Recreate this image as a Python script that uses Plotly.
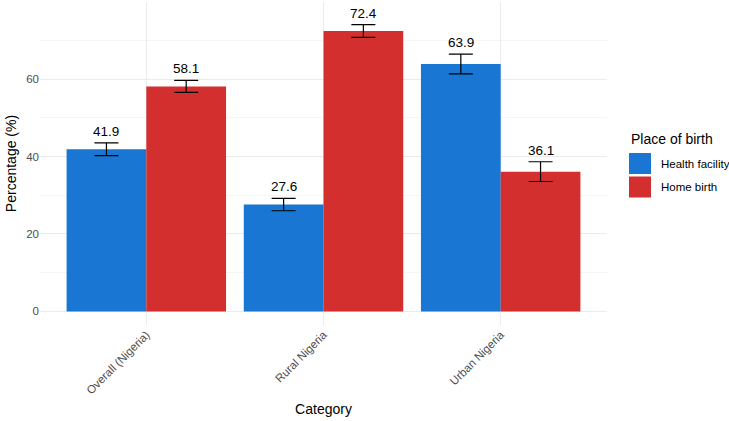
import plotly.graph_objects as go

categories = ["Overall (Nigeria)", "Rural Nigeria", "Urban Nigeria"]
health_facility = [41.9, 27.6, 63.9]
home_birth = [58.1, 72.4, 36.1]
health_err = [1.65, 1.6, 2.55]
home_err = [1.55, 1.65, 2.55]
series_names = ["Health facility", "Home birth"]
colors = ["#1976D2", "#D32F2F"]

W, H = 729, 421
ML, MR, MT, MB = 40, 122, 2, 96
PW, PH = W - ML - MR, H - MT - MB
FONT = "Liberation Sans, Arial, sans-serif"

def px_x(x):
    return (x - ML) / PW

def px_y(y):
    return 1 - (y - MT) / PH

fig = go.Figure()
for name, vals, errs, col in [
    (series_names[0], health_facility, health_err, colors[0]),
    (series_names[1], home_birth, home_err, colors[1]),
]:
    fig.add_trace(go.Bar(
        name=name, x=categories, y=vals, marker_color=col,
        marker_line_width=0,
        error_y=dict(type="data", array=errs, color="black", thickness=1.2, width=12),
        showlegend=False,
    ))

annotations = []
for i, c in enumerate(categories):
    for off, vals, errs in [(-0.225, health_facility, health_err), (0.225, home_birth, home_err)]:
        annotations.append(dict(
            x=i + off, y=vals[i] + errs[i], xref="x", yref="y",
            text=f"{vals[i]:.1f}", showarrow=False, yanchor="middle", yshift=11.6,
            font=dict(family=FONT, size=13.5, color="black"),
        ))

# manual legend
annotations.append(dict(x=px_x(629), y=px_y(139), xref="paper", yref="paper",
                        text="Place of birth", showarrow=False, xanchor="left", yanchor="middle",
                        font=dict(family=FONT, size=14, color="black")))
shapes = []
for k, (name, col) in enumerate(zip(series_names, colors)):
    y0 = 153 + k * 23.5
    shapes.append(dict(type="rect", xref="paper", yref="paper",
                       x0=px_x(629), x1=px_x(651), y0=px_y(y0), y1=px_y(y0 + 21),
                       fillcolor=col, line_width=0))
    annotations.append(dict(x=px_x(659), y=px_y(y0 + 10.5), xref="paper", yref="paper",
                            text=name, showarrow=False, xanchor="left", yanchor="middle",
                            font=dict(family=FONT, size=11.5, color="black")))

fig.update_layout(
    width=W, height=H,
    margin=dict(l=ML, r=MR, t=MT, b=MB),
    paper_bgcolor="white", plot_bgcolor="white",
    barmode="group", bargap=0.1, bargroupgap=0,
    font=dict(family=FONT),
    annotations=annotations, shapes=shapes,
    xaxis=dict(
        range=[-0.6, 2.6], tickangle=-45, showgrid=True, gridcolor="#EBEBEB", gridwidth=1,
        tickfont=dict(size=11.5, color="#4D4D4D"), ticks="", zeroline=False,
        title=dict(text="Category", font=dict(size=14, color="black"), standoff=8),
    ),
    yaxis=dict(
        range=[-3.5, 79.9], tickvals=[0, 20, 40, 60], showgrid=True, gridcolor="#EBEBEB",
        gridwidth=1, zeroline=False, ticks="",
        minor=dict(tickvals=[10, 30, 50, 70], showgrid=True, gridcolor="#F5F5F5", gridwidth=1),
        tickfont=dict(size=11.5, color="#4D4D4D"),
        title=dict(text="Percentage (%)", font=dict(size=14, color="black"), standoff=6),
    ),
)

fig.write_html("out.html")
